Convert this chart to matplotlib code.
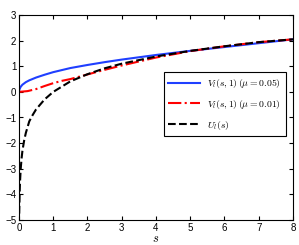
import matplotlib
matplotlib.use("Agg")
import matplotlib.pyplot as plt

plt.rcParams['mathtext.fontset'] = 'cm'
plt.rcParams['font.family'] = ['Liberation Sans', 'DejaVu Sans']

# Blue: V_l(s,1), mu = 0.05
s_v05 = [0, 0.01, 0.02, 0.05, 0.1, 0.2, 0.3, 0.5, 0.75, 1, 1.5, 2, 2.5, 3, 4, 5, 6, 7, 8]
v05 = [0, 0.08, 0.12, 0.2, 0.28, 0.38, 0.45, 0.56, 0.67, 0.77, 0.93, 1.05, 1.16, 1.26, 1.44, 1.6, 1.75, 1.9, 2.05]

# Red: V_l(s,1), mu = 0.01
s_v01 = [0, 0.25, 0.5, 0.75, 1, 1.25, 1.5, 2, 2.5, 3, 4, 5, 6, 7, 8]
v01 = [0, 0.03, 0.11, 0.23, 0.34, 0.43, 0.5, 0.68, 0.86, 1.03, 1.34, 1.59, 1.78, 1.94, 2.05]

# Black: U_l(s)
s_u = [0.006, 0.01, 0.02, 0.03, 0.05, 0.075, 0.1, 0.15, 0.2, 0.3, 0.4, 0.5, 0.75, 1, 1.5, 2, 2.5, 3, 4, 5, 6, 7, 8]
u = [-4.75, -4.5, -3.9, -3.5, -3.0, -2.6, -2.3, -1.9, -1.6, -1.15, -0.9, -0.68, -0.29, 0.0, 0.41, 0.69, 0.92, 1.1, 1.38, 1.6, 1.78, 1.94, 2.05]

labels = [r'$V_l(s,1)\,(\mu=0.05)$', r'$V_l(s,1)\,(\mu=0.01)$', r'$U_l(s)$']

fig = plt.figure(figsize=(2.99, 2.45), dpi=100)
ax = fig.add_axes([19/299, 25/245, 274/299, 205/245])

ax.plot(s_v05, v05, color='#1f3fff', lw=1.5, label=labels[0])
ax.plot(s_v01, v01, color='#ff0000', lw=1.5, ls='-.', label=labels[1])
ax.plot(s_u, u, color='black', lw=1.5, ls='--', label=labels[2])

ax.set_xlim(0, 8)
ax.set_ylim(-5, 3)
ax.set_xticks(range(0, 9))
ax.set_yticks(range(-5, 4))
ax.tick_params(direction='in', labelsize=7, length=3, top=True, right=True, pad=2)
ax.set_xlabel(r'$s$', fontsize=9, labelpad=0.5)

leg = ax.legend(loc='upper left', bbox_to_anchor=(0.51, 0.745), fontsize=7,
                frameon=True, fancybox=False, edgecolor='black', framealpha=1,
                handlelength=3.2, borderpad=0.5, labelspacing=0.8)
leg.get_frame().set_linewidth(0.8)

fig.savefig('out.png', dpi=100)
